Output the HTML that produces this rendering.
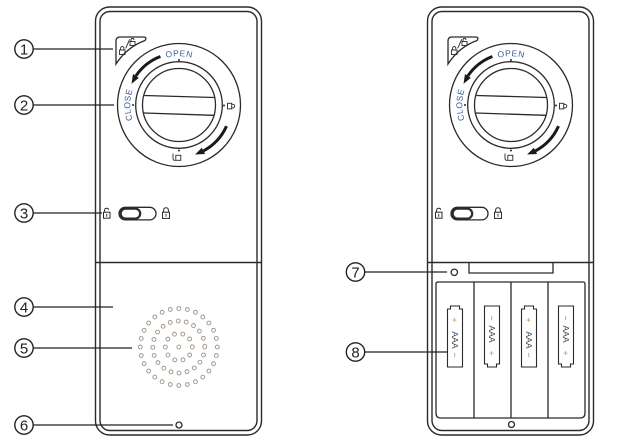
<!DOCTYPE html>
<html>
<head>
<meta charset="utf-8">
<style>
html,body{margin:0;padding:0;background:#fff;width:624px;height:442px;overflow:hidden}
svg{display:block}
text{font-family:"Liberation Sans",Arial,sans-serif}
</style>
</head>
<body>
<svg xmlns="http://www.w3.org/2000/svg" width="624" height="442" viewBox="0 0 624 442">
<defs>
  <path id="tp" d="M179,153.8 A48.8,48.8 0 1 1 179,56.2 A48.8,48.8 0 1 1 179,153.8"/>
</defs>

<!-- ============ LEFT DEVICE ============ -->
<g fill="none" stroke="#2a2a2a" stroke-width="1.4">
  <rect x="95.5" y="7" width="166" height="428" rx="14"/>
  <rect x="100" y="11.5" width="157" height="419" rx="10"/>
  <line x1="95.5" y1="262.5" x2="261.5" y2="262.5"/>
</g>

<g>
  <g fill="none" stroke="#2a2a2a" stroke-width="1.3">
    <path d="M116,64 L116,41 Q116,37 120,37 L143,37 Q147.5,37 145,40.5 Q127,47 116,64 Z" fill="#fff"/>
    <circle cx="179" cy="105" r="61.5" fill="#fff"/>
    <circle cx="179" cy="105" r="43.3"/>
    <circle cx="179" cy="105" r="36.5"/>
    <line x1="144.3" y1="95.5" x2="214.2" y2="97.5"/>
    <line x1="143.9" y1="113" x2="213.5" y2="115.3"/>
  </g>
  <g fill="none" stroke="#2a2a2a" stroke-width="0.9">
    <rect x="119.5" y="50" width="5.5" height="4.5"/>
    <path d="M120.6,50 V48.6 Q120.6,46.6 122.25,46.6 Q123.9,46.6 123.9,48.6 V50"/>
    <line x1="125.7" y1="48.3" x2="129.7" y2="39.3"/>
    <rect x="130" y="41.5" width="5" height="4"/>
    <path d="M131,41.5 V40 Q131,38.3 132.5,38.3 Q134,38.3 134,40"/>
  </g>
  <g fill="#2a2a2a">
    <circle cx="179" cy="60" r="1"/>
    <circle cx="133" cy="105" r="1"/>
    <circle cx="224" cy="105.5" r="1"/>
    <circle cx="179" cy="150.5" r="1"/>
  </g>
  <text font-size="8.5" letter-spacing="0.6" fill="#3b5b92" text-anchor="middle"><textPath href="#tp" startOffset="153.3">OPEN</textPath></text>
  <text font-size="8.5" letter-spacing="0.4" fill="#3b5b92" text-anchor="middle"><textPath href="#tp" startOffset="76.6">CLOSE</textPath></text>
  <path d="M160.4,56.5 A52,52 0 0 0 135.9,75.9" fill="none" stroke="#1a1a1a" stroke-width="3"/>
  <polygon points="138.8,77.9 133.0,74.0 131.5,83.9" fill="#1a1a1a"/>
  <path d="M226.5,126.1 A52,52 0 0 1 203.4,150.9" fill="none" stroke="#1a1a1a" stroke-width="3"/>
  <polygon points="201.8,147.8 205.1,154.0 195.1,154.5" fill="#1a1a1a"/>
  <g fill="none" stroke="#2a2a2a" stroke-width="0.9">
    <rect x="227.5" y="103.3" width="4.2" height="5.6"/>
    <path d="M231.7,104.2 Q234.8,104.2 234.8,106.1 Q234.8,108 231.7,108"/>
    <rect x="175.8" y="155.3" width="5" height="5"/>
    <path d="M173,153.5 V158.3 Q173,160.5 175.3,160.5"/>
  </g>
</g>

<g fill="none" stroke="#2a2a2a">
  <rect x="119" y="207.3" width="37" height="12.6" rx="6.3" stroke-width="1.3"/>
  <rect x="120.6" y="208.6" width="19.6" height="10" rx="5" stroke-width="2.2"/>
  <rect x="103.5" y="212.2" width="6.5" height="6" stroke-width="1"/>
  <path d="M104.6,212.2 V210.3 Q104.6,208.2 106.7,208.2 Q108.6,208.2 108.6,209.8" stroke-width="1"/>
  <line x1="106.75" y1="213.8" x2="106.75" y2="216.8" stroke-width="0.9"/>
  <rect x="162.5" y="212.2" width="7" height="6.2" stroke-width="1"/>
  <path d="M163.6,212.2 V210.3 Q163.6,207.8 166,207.8 Q168.4,207.8 168.4,210.3 V212.2" stroke-width="1"/>
  <line x1="166" y1="213.8" x2="166" y2="216.8" stroke-width="0.9"/>
</g>

<g fill="none" stroke-linecap="round">
  <circle cx="178.8" cy="347" r="38.5" pathLength="28" stroke="#a09488" stroke-width="4.8" stroke-dasharray="0 1"/>
  <circle cx="178.8" cy="347" r="38.5" pathLength="28" stroke="#fff" stroke-width="2.9" stroke-dasharray="0 1"/>
  <circle cx="178.8" cy="347" r="26" pathLength="20" stroke="#a09488" stroke-width="4.8" stroke-dasharray="0 1"/>
  <circle cx="178.8" cy="347" r="26" pathLength="20" stroke="#fff" stroke-width="2.9" stroke-dasharray="0 1"/>
  <circle cx="178.8" cy="347" r="13.5" pathLength="10" stroke="#a09488" stroke-width="4.8" stroke-dasharray="0 1"/>
  <circle cx="178.8" cy="347" r="13.5" pathLength="10" stroke="#fff" stroke-width="2.9" stroke-dasharray="0 1"/>
  <circle cx="178.8" cy="347" r="1.9" stroke="#a09488" stroke-width="0.9"/>
</g>

<circle cx="179" cy="425" r="3" fill="none" stroke="#2a2a2a" stroke-width="1.3"/>

<!-- ============ RIGHT DEVICE ============ -->
<g transform="translate(332,0)">
  <g fill="none" stroke="#2a2a2a" stroke-width="1.4">
    <rect x="95.5" y="7" width="166" height="428" rx="14"/>
    <rect x="100" y="11.5" width="157" height="419" rx="10"/>
    <line x1="95.5" y1="262.5" x2="261.5" y2="262.5"/>
  </g>
  <g fill="none" stroke="#2a2a2a" stroke-width="1.3">
    <path d="M116,64 L116,41 Q116,37 120,37 L143,37 Q147.5,37 145,40.5 Q127,47 116,64 Z" fill="#fff"/>
    <circle cx="179" cy="105" r="61.5" fill="#fff"/>
    <circle cx="179" cy="105" r="43.3"/>
    <circle cx="179" cy="105" r="36.5"/>
    <line x1="144.3" y1="95.5" x2="214.2" y2="97.5"/>
    <line x1="143.9" y1="113" x2="213.5" y2="115.3"/>
  </g>
  <g fill="none" stroke="#2a2a2a" stroke-width="0.9">
    <rect x="119.5" y="50" width="5.5" height="4.5"/>
    <path d="M120.6,50 V48.6 Q120.6,46.6 122.25,46.6 Q123.9,46.6 123.9,48.6 V50"/>
    <line x1="125.7" y1="48.3" x2="129.7" y2="39.3"/>
    <rect x="130" y="41.5" width="5" height="4"/>
    <path d="M131,41.5 V40 Q131,38.3 132.5,38.3 Q134,38.3 134,40"/>
  </g>
  <g fill="#2a2a2a">
    <circle cx="179" cy="60" r="1"/>
    <circle cx="133" cy="105" r="1"/>
    <circle cx="224" cy="105.5" r="1"/>
    <circle cx="179" cy="150.5" r="1"/>
  </g>
  <text font-size="8.5" letter-spacing="0.6" fill="#3b5b92" text-anchor="middle"><textPath href="#tp" startOffset="153.3">OPEN</textPath></text>
  <text font-size="8.5" letter-spacing="0.4" fill="#3b5b92" text-anchor="middle"><textPath href="#tp" startOffset="76.6">CLOSE</textPath></text>
  <path d="M160.4,56.5 A52,52 0 0 0 135.9,75.9" fill="none" stroke="#1a1a1a" stroke-width="3"/>
  <polygon points="138.8,77.9 133.0,74.0 131.5,83.9" fill="#1a1a1a"/>
  <path d="M226.5,126.1 A52,52 0 0 1 203.4,150.9" fill="none" stroke="#1a1a1a" stroke-width="3"/>
  <polygon points="201.8,147.8 205.1,154.0 195.1,154.5" fill="#1a1a1a"/>
  <g fill="none" stroke="#2a2a2a" stroke-width="0.9">
    <rect x="227.5" y="103.3" width="4.2" height="5.6"/>
    <path d="M231.7,104.2 Q234.8,104.2 234.8,106.1 Q234.8,108 231.7,108"/>
    <rect x="175.8" y="155.3" width="5" height="5"/>
    <path d="M173,153.5 V158.3 Q173,160.5 175.3,160.5"/>
  </g>
  <g fill="none" stroke="#2a2a2a">
    <rect x="119" y="207.3" width="37" height="12.6" rx="6.3" stroke-width="1.3"/>
    <rect x="120.6" y="208.6" width="19.6" height="10" rx="5" stroke-width="2.2"/>
    <rect x="103.5" y="212.2" width="6.5" height="6" stroke-width="1"/>
    <path d="M104.6,212.2 V210.3 Q104.6,208.2 106.7,208.2 Q108.6,208.2 108.6,209.8" stroke-width="1"/>
    <line x1="106.75" y1="213.8" x2="106.75" y2="216.8" stroke-width="0.9"/>
    <rect x="162.5" y="212.2" width="7" height="6.2" stroke-width="1"/>
    <path d="M163.6,212.2 V210.3 Q163.6,207.8 166,207.8 Q168.4,207.8 168.4,210.3 V212.2" stroke-width="1"/>
    <line x1="166" y1="213.8" x2="166" y2="216.8" stroke-width="0.9"/>
  </g>
</g>

<g fill="none" stroke="#2a2a2a" stroke-width="1.3">
  <path d="M469,262.5 V273 H553 V262.5"/>
  <circle cx="454.3" cy="272.3" r="3.2"/>
  <path d="M436,284 Q436,282 438,282 L583,282 Q585,282 585,284 L585,413 Q585,418 580,418 L441,418 Q436,418 436,413 Z"/>
  <line x1="474" y1="282" x2="474" y2="418"/>
  <line x1="511" y1="282" x2="511" y2="418"/>
  <line x1="548" y1="282" x2="548" y2="418"/>
  <circle cx="511.5" cy="424.5" r="3"/>
</g>
<g fill="none" stroke="#2a2a2a" stroke-width="1.1">
  <path d="M447.5,367 V309 H450.5 V306 H459.5 V309 H462.5 V367 Z"/>
  <path d="M484.5,306 V364 H487.5 V367 H496.5 V364 H499.5 V306 Z"/>
  <path d="M521.5,367 V309 H524.5 V306 H533.5 V309 H536.5 V367 Z"/>
  <path d="M558.5,306 V364 H561.5 V367 H570.5 V364 H573.5 V306 Z"/>
</g>
<g font-size="8.6" text-anchor="middle">
  <text transform="translate(455,320) rotate(90)" y="3" fill="#c98a4a">+</text>
  <text transform="translate(455,340) rotate(90)" y="3" fill="#444">AAA</text>
  <text transform="translate(455,355) rotate(90)" y="3" fill="#777">−</text>

  <text transform="translate(492,318) rotate(90)" y="3" fill="#777">−</text>
  <text transform="translate(492,334) rotate(90)" y="3" fill="#444">AAA</text>
  <text transform="translate(492,353) rotate(90)" y="3" fill="#c98a4a">+</text>

  <text transform="translate(529,320) rotate(90)" y="3" fill="#c98a4a">+</text>
  <text transform="translate(529,340) rotate(90)" y="3" fill="#444">AAA</text>
  <text transform="translate(529,355) rotate(90)" y="3" fill="#777">−</text>

  <text transform="translate(566,318) rotate(90)" y="3" fill="#777">−</text>
  <text transform="translate(566,334) rotate(90)" y="3" fill="#444">AAA</text>
  <text transform="translate(566,353) rotate(90)" y="3" fill="#c98a4a">+</text>
</g>

<!-- ============ CALLOUTS ============ -->
<g stroke="#222" fill="none">
  <g stroke-width="1.4">
    <circle cx="24" cy="49" r="9.2"/>
    <circle cx="24" cy="105" r="9.2"/>
    <circle cx="24" cy="213" r="9.2"/>
    <circle cx="24" cy="307" r="9.2"/>
    <circle cx="24" cy="348" r="9.2"/>
    <circle cx="24" cy="425" r="9.2"/>
    <circle cx="355.5" cy="272" r="9.2"/>
    <circle cx="355.5" cy="352" r="9.2"/>
  </g>
  <g stroke-width="1.2">
    <line x1="33.5" y1="49" x2="113" y2="49"/>
    <line x1="33.5" y1="105" x2="114" y2="105"/>
    <line x1="33.5" y1="213" x2="102" y2="213"/>
    <line x1="33.5" y1="307" x2="113" y2="307"/>
    <line x1="33.5" y1="348" x2="132" y2="348"/>
    <line x1="33.5" y1="425" x2="173" y2="425"/>
    <line x1="365" y1="272" x2="447" y2="272"/>
    <line x1="365" y1="352" x2="447" y2="352"/>
  </g>
</g>
<g font-size="15" fill="#222" text-anchor="middle">
  <text x="24" y="54.4">1</text>
  <text x="24" y="110.4">2</text>
  <text x="24" y="218.4">3</text>
  <text x="24" y="312.4">4</text>
  <text x="24" y="353.4">5</text>
  <text x="24" y="430.4">6</text>
  <text x="355.5" y="277.4">7</text>
  <text x="355.5" y="357.4">8</text>
</g>
</svg>
</body>
</html>
